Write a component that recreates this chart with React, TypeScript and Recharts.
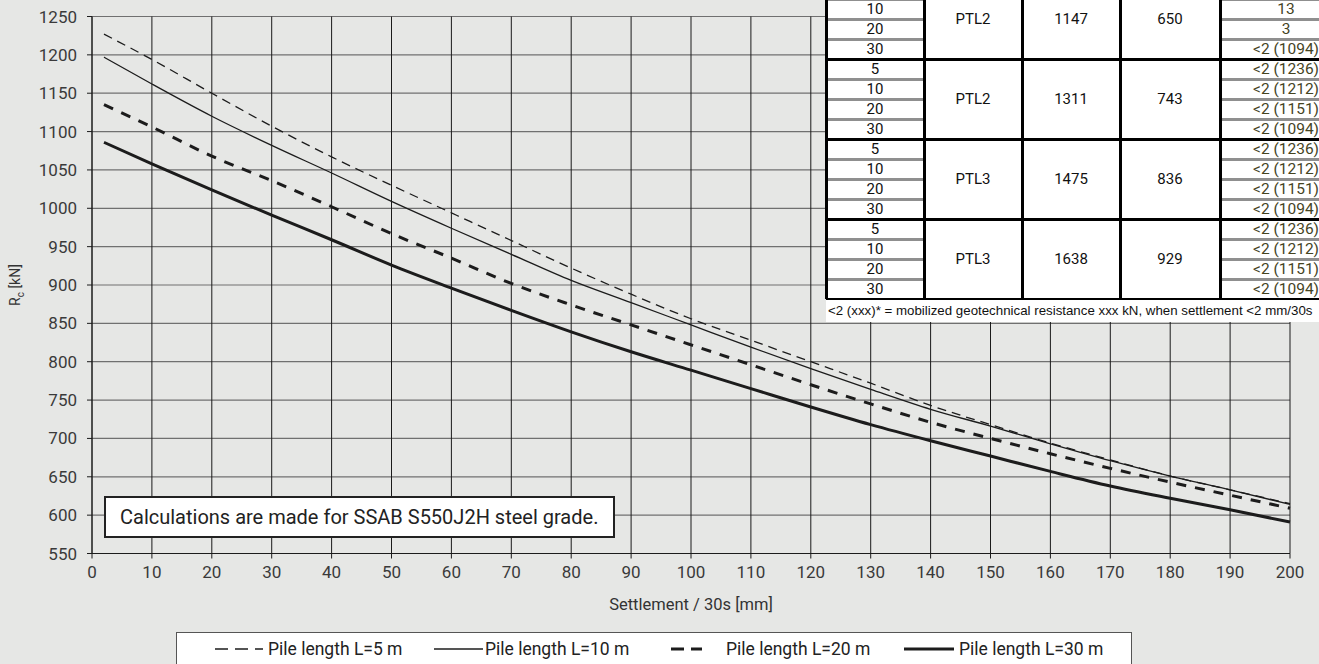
import React from 'react';
import { LineChart, Line, XAxis, YAxis, CartesianGrid, Label } from 'recharts';

// settlement values (mm / 30s) where the curves were read
const settlement = [2, 10, 20, 30, 40, 50, 60, 70, 80, 90, 100, 110, 120, 130, 140, 150, 160, 170, 180, 190, 200];

// mobilized resistance Rc (kN) per pile length
const pile5 = [1227, 1194, 1150, 1107, 1067, 1030, 994, 958, 922, 888, 856, 828, 800, 772, 743, 718, 694, 672, 651, 633, 615];
const pile10 = [1197, 1162, 1120, 1082, 1046, 1009, 974, 940, 906, 877, 848, 819, 791, 764, 738, 716, 693, 671, 651, 633, 614];
const pile20 = [1135, 1106, 1068, 1036, 1002, 967, 935, 902, 874, 848, 822, 796, 770, 745, 721, 700, 680, 661, 643, 626, 609];
const pile30 = [1086, 1058, 1024, 991, 959, 926, 896, 867, 839, 813, 789, 765, 741, 718, 697, 677, 657, 638, 622, 607, 591];

const xTicks = [0, 10, 20, 30, 40, 50, 60, 70, 80, 90, 100, 110, 120, 130, 140, 150, 160, 170, 180, 190, 200];
const yTicks = [550, 600, 650, 700, 750, 800, 850, 900, 950, 1000, 1050, 1100, 1150, 1200, 1250];

const seriesNames = ['Pile length L=5 m', 'Pile length L=10 m', 'Pile length L=20 m', 'Pile length L=30 m'];
const seriesKeys = ['l5', 'l10', 'l20', 'l30'];
const seriesValues = [pile5, pile10, pile20, pile30];

// table in the upper right corner
const tablePileLengths = ['5', '10', '20', '30'];
const tableProfiles = ['PTL2', 'PTL2', 'PTL3', 'PTL3'];
const tableColA = ['1147', '1311', '1475', '1638'];
const tableColB = ['650', '743', '836', '929'];
const tableSettlement = [
  ['', '13', '3', '<2 (1094)'],
  ['<2 (1236)', '<2 (1212)', '<2 (1151)', '<2 (1094)'],
  ['<2 (1236)', '<2 (1212)', '<2 (1151)', '<2 (1094)'],
  ['<2 (1236)', '<2 (1212)', '<2 (1151)', '<2 (1094)'],
];
const tableNote = '<2 (xxx)* = mobilized geotechnical resistance xxx kN, when settlement <2 mm/30s';
const noteText = 'Calculations are made for SSAB S550J2H steel grade.';

const data = settlement.map((x, i) => {
  const row: Record<string, number> = { x };
  seriesKeys.forEach((k, s) => { row[k] = seriesValues[s][i]; });
  return row;
});

const lineStyle: Record<string, { width: number; dash?: string; legendDash?: string }> = {
  l5: { width: 1.3, dash: '9 6', legendDash: '13 7' },
  l10: { width: 1.3 },
  l20: { width: 3, dash: '10 9', legendDash: '13 7' },
  l30: { width: 3 },
};

// symbol offset inside the legend box, symbol width, gap before the text
const legendLayout = [
  { left: 38, symbol: 48, gap: 5 },
  { left: 257, symbol: 49, gap: 2 },
  { left: 494, symbol: 31, gap: 24 },
  { left: 727, symbol: 50, gap: 5 },
];

const BG = '#e6e7e5';
const INK = '#1c1c1c';
const FONT = 'Roboto, "Noto Sans", sans-serif';

const colX = [0, 98, 196, 294, 394, 526];
const LAST_COL_CENTER = 460;
const GROUP_H = 80;
const ROW_H = 20;
const TABLE_TOP = -21;

const YLabel = (props: any) => {
  const vb = props.viewBox;
  const cx = vb.x + 20;
  const cy = vb.y + vb.height / 2;
  return (
    <text x={cx} y={cy} transform={`rotate(-90, ${cx}, ${cy})`} textAnchor="middle" fill="#333" fontSize={14} fontFamily={FONT}>
      <tspan>R</tspan>
      <tspan dy={4} fontSize={10}>c</tspan>
      <tspan dy={-4}> [kN]</tspan>
    </text>
  );
};

const ResultTable = () => {
  const cells: React.ReactNode[] = [];
  const tableH = GROUP_H * 4;
  const width = colX[colX.length - 1];
  const center = (l: number, r: number, top: number, h: number, text: string, key: string) => (
    <div key={key} style={{ position: 'absolute', left: l, width: r - l, top, height: h, lineHeight: `${h}px`, textAlign: 'center', whiteSpace: 'nowrap' }}>{text}</div>
  );
  tableProfiles.forEach((p, g) => {
    const gTop = g * GROUP_H;
    cells.push(center(colX[1], colX[2], gTop, GROUP_H, p, `p${g}`));
    cells.push(center(colX[2], colX[3], gTop, GROUP_H, tableColA[g], `a${g}`));
    cells.push(center(colX[3], colX[4], gTop, GROUP_H, tableColB[g], `b${g}`));
    tablePileLengths.forEach((len, r) => {
      cells.push(center(colX[0], colX[1], gTop + r * ROW_H, ROW_H, len, `l${g}${r}`));
      cells.push(
        <div key={`s${g}${r}`} style={{ position: 'absolute', left: LAST_COL_CENTER, top: gTop + r * ROW_H, height: ROW_H, lineHeight: `${ROW_H}px`, transform: 'translateX(-50%)', whiteSpace: 'nowrap', color: '#45441f', fontSize: 15.5 }}>
          {tableSettlement[g][r]}
        </div>
      );
      if (r > 0) {
        cells.push(<div key={`gl${g}${r}`} style={{ position: 'absolute', left: colX[0], width: colX[1] - colX[0], top: gTop + r * ROW_H - 1.5, height: 3, background: '#8f8f8f' }} />);
        cells.push(<div key={`gr${g}${r}`} style={{ position: 'absolute', left: colX[4], width: width - colX[4], top: gTop + r * ROW_H - 1.5, height: 3, background: '#8f8f8f' }} />);
      }
    });
    cells.push(<div key={`h${g}`} style={{ position: 'absolute', left: 0, width, top: gTop + GROUP_H - 1.5, height: 3, background: '#000' }} />);
  });
  colX.slice(0, 5).forEach((x, i) => {
    cells.push(<div key={`v${i}`} style={{ position: 'absolute', left: x - 1, width: 2.5, top: 0, height: tableH, background: '#000' }} />);
  });
  return (
    <div style={{ position: 'absolute', left: 826, top: TABLE_TOP, width, height: tableH, background: '#fff', fontFamily: FONT, fontSize: 15, color: '#111' }}>
      {cells}
    </div>
  );
};

const LegendBox = () => (
  <div style={{ position: 'absolute', left: 176, top: 632, width: 956, height: 34, boxSizing: 'border-box', border: '1.5px solid #555', background: '#fff', fontFamily: FONT, fontSize: 17.5, color: '#222' }}>
    {seriesKeys.map((k, i) => {
      const st = lineStyle[k];
      const lay = legendLayout[i];
      return (
        <div key={k} style={{ position: 'absolute', left: lay.left, top: 0, height: 31, display: 'flex', alignItems: 'center', whiteSpace: 'nowrap' }}>
          <svg width={lay.symbol} height={10} style={{ marginRight: lay.gap }}>
            <line x1={0} x2={lay.symbol} y1={5} y2={5} stroke={INK} strokeWidth={st.width} strokeDasharray={st.legendDash} />
          </svg>
          <span>{seriesNames[i]}</span>
        </div>
      );
    })}
  </div>
);

export default function App() {
  return (
    <div style={{ position: 'absolute', left: 0, top: 0, width: 1319, height: 664, background: BG, overflow: 'hidden' }}>
      <LineChart width={1319} height={664} data={data} margin={{ top: 16.5, right: 29, bottom: 50, left: 0 }}>
        <CartesianGrid vertical={false} stroke="#707070" strokeWidth={1.2} />
        <CartesianGrid horizontal={false} stroke="#1a1a1a" strokeWidth={1} />
        <XAxis
          dataKey="x"
          type="number"
          domain={[0, 200]}
          ticks={xTicks}
          interval={0}
          height={60.5}
          tickSize={5}
          tickMargin={7}
          stroke={INK}
          tick={{ fill: '#3a3a3a', fontSize: 17, fontFamily: FONT }}
        >
          <Label value="Settlement / 30s [mm]" position="insideBottom" offset={4} style={{ fill: '#333', fontSize: 16.5, fontFamily: FONT }} />
        </XAxis>
        <YAxis
          type="number"
          domain={[550, 1250]}
          ticks={yTicks}
          interval={0}
          width={92}
          tickSize={5}
          tickMargin={10}
          stroke={INK}
          tick={{ fill: '#3a3a3a', fontSize: 17, fontFamily: FONT }}
          label={{ content: YLabel }}
        />
        {seriesKeys.map((k, i) => (
          <Line
            key={k}
            type="monotone"
            dataKey={k}
            name={seriesNames[i]}
            stroke={INK}
            strokeWidth={lineStyle[k].width}
            strokeDasharray={lineStyle[k].dash}
            dot={false}
            activeDot={false}
            isAnimationActive={false}
          />
        ))}
      </LineChart>
      <div style={{ position: 'absolute', left: 104, top: 496, width: 511, height: 42, boxSizing: 'border-box', border: '2px solid #222', background: '#fff', paddingLeft: 14, lineHeight: '38px', fontFamily: FONT, fontSize: 20, color: '#222', whiteSpace: 'nowrap' }}>
        {noteText}
      </div>
      <ResultTable />
      <div style={{ position: 'absolute', left: 826, top: 300, width: 493, height: 22, background: '#fff', paddingLeft: 2, lineHeight: '22px', fontFamily: '"Liberation Sans", Arial, sans-serif', fontSize: 13.3, color: '#111', whiteSpace: 'nowrap' }}>
        {tableNote}
      </div>
      <LegendBox />
    </div>
  );
}
